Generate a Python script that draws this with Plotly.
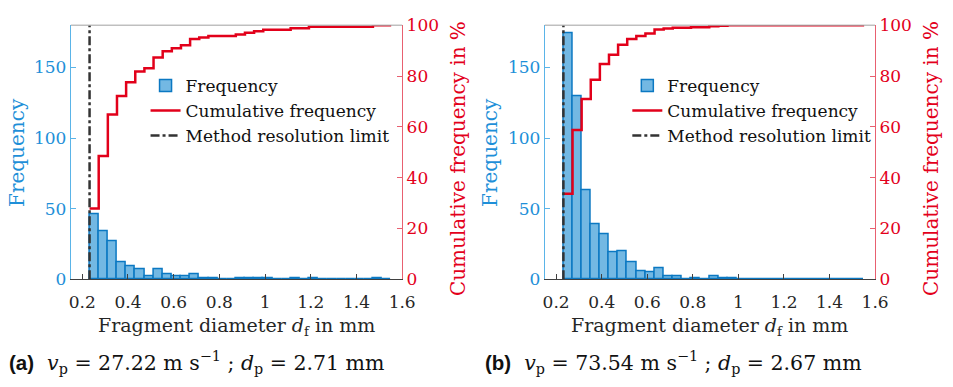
import plotly.graph_objects as go

# ---------------- data ----------------
bin_width = 0.04
first_edge = 0.232
resolution_limit = 0.232

counts_a = [46, 34, 27, 12, 9, 7, 2, 7, 4, 2, 2, 4, 1, 1, 0, 0, 1, 1, 1, 1,
            0, 0, 1, 0, 1, 0, 0, 0, 0, 0, 0, 1, 0]
counts_b = [174, 130, 63, 39, 32, 19, 20, 12, 6, 5, 8, 2, 2, 0, 1, 0, 2, 1, 1,
            0, 0, 0, 0, 0, 0, 0, 0, 0, 0, 0, 0, 0, 0]

x_tickvals = [0.2, 0.4, 0.6, 0.8, 1.0, 1.2, 1.4, 1.6]
x_ticktext = ["0.2", "0.4", "0.6", "0.8", "1", "1.2", "1.4", "1.6"]
y_tickvals = [0, 50, 100, 150]
y2_tickvals = [0, 20, 40, 60, 80, 100]

SANSB = '<span style="font-family:Liberation Sans;font-weight:bold">'
captions = [
    SANSB + '(a)</span>  <i>v</i><sub>p</sub> = 27.22 m s<sup>−1</sup> ; <i>d</i><sub>p</sub> = 2.71 mm',
    SANSB + '(b)</span>  <i>v</i><sub>p</sub> = 73.54 m s<sup>−1</sup> ; <i>d</i><sub>p</sub> = 2.67 mm',
]

# ---------------- styling ----------------
W, H = 953, 387
SERIF = "DejaVu Serif"
BLUE_TXT = "#1E8FD8"
BLUE_LINE = "#5AB4E8"
RED_TXT = "#E3001B"
RED_LINE = "#E86070"
BAR_FILL = "#73B8E3"
BAR_EDGE = "#0B78C2"
CUM_RED = "#E2001A"
DASH_COL = "#333333"
AX_COL = "#404040"


def px_x(p):
    return p / W


def px_y(p):
    return 1 - p / H


y_dom = [px_y(284), px_y(16)]
x_doms = [[px_x(70), px_x(407)], [px_x(552), px_x(888)]]

fig = go.Figure()

panels = [counts_a, counts_b]
axes = [("x", "y", "y2", "legend"), ("x2", "y3", "y4", "legend2")]

for counts, (xa, ya, ya2, leg) in zip(panels, axes):
    n = len(counts)
    edges = [round(first_edge + bin_width * i, 4) for i in range(n + 1)]
    centers = [round(first_edge + bin_width * (i + 0.5), 4) for i in range(n)]
    total = sum(counts)
    cum = []
    s = 0
    for c in counts:
        s += c
        cum.append(100.0 * s / total)
    fig.add_trace(go.Bar(
        x=centers, y=counts, width=bin_width, name="Frequency",
        marker=dict(color=BAR_FILL, line=dict(color=BAR_EDGE, width=1.5)),
        xaxis=xa, yaxis=ya, legend=leg, showlegend=True,
    ))
    fig.add_trace(go.Scatter(
        x=edges, y=cum + [cum[-1]], mode="lines", line_shape="hv",
        name="Cumulative frequency", line=dict(color=CUM_RED, width=2.5),
        xaxis=xa, yaxis=ya2, legend=leg,
    ))
    fig.add_trace(go.Scatter(
        x=[resolution_limit, resolution_limit], y=[0, 100], mode="lines",
        name="Method resolution limit",
        line=dict(color=DASH_COL, width=2.5, dash="dashdot"),
        xaxis=xa, yaxis=ya2, legend=leg,
    ))


def xaxis_cfg(dom, anchor):
    return dict(domain=dom, anchor=anchor, range=[0.15, 1.6],
                tickvals=x_tickvals, ticktext=x_ticktext,
                ticks="inside", ticklen=5, tickcolor=AX_COL,
                showline=True, linecolor=AX_COL, linewidth=1,
                showgrid=False, zeroline=False, ticklabelstandoff=7,
                tickfont=dict(family=SERIF, size=17, color="#262626"))


def yaxis_cfg(anchor):
    return dict(domain=y_dom, anchor=anchor, range=[0, 180],
                tickvals=y_tickvals, ticks="inside", ticklen=5,
                tickcolor=BLUE_LINE, showline=True, linecolor=BLUE_LINE,
                linewidth=1, showgrid=False, zeroline=False,
                tickfont=dict(family=SERIF, size=17, color=BLUE_TXT))


def yaxis2_cfg(anchor, over):
    return dict(overlaying=over, anchor=anchor, side="right", range=[0, 100],
                tickvals=y2_tickvals, ticks="inside", ticklen=5,
                tickcolor=RED_LINE, showline=True, linecolor=RED_LINE,
                linewidth=1, showgrid=False, zeroline=False,
                tickfont=dict(family=SERIF, size=17, color=RED_TXT))


legend_common = dict(xanchor="left", yanchor="top", bgcolor="rgba(0,0,0,0)",
                     borderwidth=0, font=dict(family=SERIF, size=17, color="#111111"),
                     itemwidth=30, tracegroupgap=0)

fig.update_layout(
    width=W, height=H, autosize=False,
    margin=dict(l=0, r=0, t=0, b=0),
    paper_bgcolor="white", plot_bgcolor="white",
    barmode="overlay", bargap=0,
    xaxis=xaxis_cfg(x_doms[0], "y"),
    yaxis=yaxis_cfg("x"),
    yaxis2=yaxis2_cfg("x", "y"),
    xaxis2=xaxis_cfg(x_doms[1], "y3"),
    yaxis3=yaxis_cfg("x2"),
    yaxis4=yaxis2_cfg("x2", "y3"),
    legend=dict(x=px_x(146), y=px_y(61), **legend_common),
    legend2=dict(x=px_x(636), y=px_y(61), **legend_common),
)

shapes = []
for xa, ya in [("x", "y"), ("x2", "y3")]:
    shapes.append(dict(type="line", xref=f"{xa} domain", yref=f"{ya} domain",
                       x0=0, x1=1, y0=1, y1=1, line=dict(color="#A0A0A0", width=1)))
fig.update_layout(shapes=shapes)

annotations = []
for i, (dom, cap, cap_x) in enumerate(zip(x_doms, captions, [5, 489])):
    cx = (dom[0] + dom[1]) / 2
    annotations.append(dict(
        text="Fragment diameter <i>d</i><sub>f</sub> in mm", x=cx, y=px_y(334),
        xref="paper", yref="paper", xanchor="center", yanchor="middle",
        showarrow=False, font=dict(family=SERIF, size=19, color="#262626")))
    annotations.append(dict(
        text="Frequency", x=dom[0] - px_x(55), y=px_y(150),
        xref="paper", yref="paper", xanchor="center", yanchor="middle",
        textangle=-90, showarrow=False,
        font=dict(family=SERIF, size=20, color=BLUE_TXT)))
    annotations.append(dict(
        text="Cumulative frequency in %", x=dom[1] + px_x(57), y=px_y(157),
        xref="paper", yref="paper", xanchor="center", yanchor="middle",
        textangle=-90, showarrow=False,
        font=dict(family=SERIF, size=20, color=RED_TXT)))
    annotations.append(dict(
        text=cap, x=px_x(cap_x), y=px_y(372),
        xref="paper", yref="paper", xanchor="left", yanchor="middle",
        showarrow=False, font=dict(family=SERIF, size=20.5, color="#111111")))
fig.update_layout(annotations=annotations)

fig.write_html("out.html")
